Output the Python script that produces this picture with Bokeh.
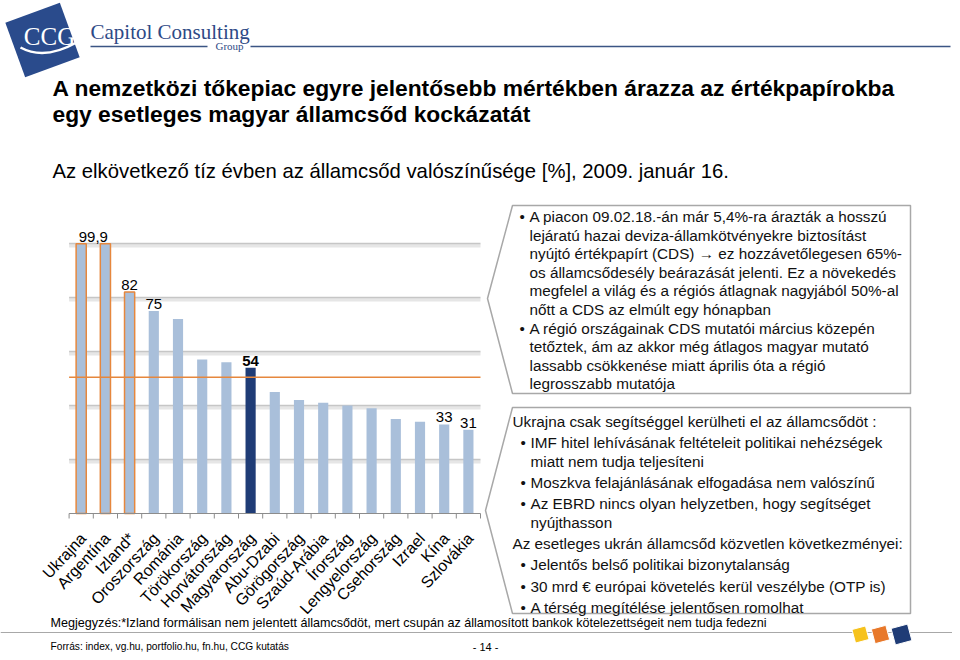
import numpy as np
from bokeh.plotting import figure
from bokeh.models import Range1d, ColumnDataSource
from bokeh.core.properties import value
from bokeh.embed import file_html
from bokeh.resources import INLINE

# ---------------- data ----------------
countries = ["Ukrajna", "Argentína", "Izland*", "Oroszország", "Románia",
             "Törökország", "Horvátország", "Magyarország", "Abu-Dzabi",
             "Görögország", "Szaúd-Arábia", "Írország", "Lengyelország",
             "Csehország", "Izrael", "Kína", "Szlovákia"]
default_prob = [99.9, 99.9, 82, 75, 72, 57, 56, 54, 45, 42, 41, 40, 39, 35, 34, 33, 31]
highlight = "Magyarország"
outlined = ["Ukrajna", "Argentína", "Izland*"]
reference_level = 50.5
grid_ticks = [20, 40, 60, 80, 100]
value_label_groups = [["Ukrajna", "Argentína"], ["Izland*"], ["Oroszország"],
                      ["Magyarország"], ["Kína"], ["Szlovákia"]]
value_label_text = ["99,9", "82", "75", "54", "33", "31"]

title_lines = ["A nemzetközi tőkepiac egyre jelentősebb mértékben árazza az értékpapírokba",
               "egy esetleges magyar államcsőd kockázatát"]
subtitle = "Az elkövetkező tíz évben  az államcsőd valószínűsége [%], 2009. január 16."

box1_lines = [
    ("bullet", "A piacon 09.02.18.-án már 5,4%-ra árazták a hosszú"),
    ("cont", "lejáratú hazai deviza-államkötvényekre biztosítást"),
    ("cont", "nyújtó értékpapírt (CDS) \u2192 ez hozzávetőlegesen 65%-"),
    ("cont", "os államcsődesély beárazását jelenti. Ez a növekedés"),
    ("cont", "megfelel a világ és  a régiós átlagnak nagyjából 50%-al"),
    ("cont", "nőtt a CDS az elmúlt egy hónapban"),
    ("bullet", "A régió országainak  CDS mutatói március közepén"),
    ("cont", "tetőztek, ám az akkor még átlagos magyar mutató"),
    ("cont", "lassabb csökkenése miatt április óta a régió"),
    ("cont", "legrosszabb mutatója"),
]
box2_lines = [
    ("head", "Ukrajna csak segítséggel kerülheti el az államcsődöt :"),
    ("bullet", "IMF hitel lehívásának feltételeit politikai nehézségek"),
    ("cont", "miatt nem tudja teljesíteni"),
    ("bullet", "Moszkva felajánlásának elfogadása nem valószínű"),
    ("bullet", "Az EBRD nincs olyan helyzetben, hogy segítséget"),
    ("cont", "nyújthasson"),
    ("head", "Az esetleges ukrán államcsőd közvetlen következményei:"),
    ("bullet", "Jelentős belső politikai bizonytalanság"),
    ("bullet", "30 mrd \u20ac európai követelés kerül veszélybe (OTP is)"),
    ("bullet", "A térség megítélése jelentősen romolhat"),
]
footnote = ("Megjegyzés:*Izland formálisan nem jelentett államcsődöt, mert csupán az "
            "államosított bankok kötelezettségeit nem tudja fedezni")
source_note = "Forrás: index, vg.hu, portfolio.hu, fn.hu, CCG kutatás"
page_no = "- 14 -"
brand = "Capitol Consulting"
brand_sub = "Group"
logo_text = "CCG"

# ---------------- style ----------------
SANS = value("Liberation Sans")
SERIF = value("Liberation Serif")
LIGHT = "#A9BFDA"
DARK = "#1F3C76"
ORANGE = "#E6873D"
LOGO_BLUE = "#2A4B8C"
BOX_LINE = "#A8A8A8"
TXT_PX = "15.3px"

W, H = 952, 652
OX, OY = 0, 0            # figure coords equal page pixels

p = figure(width=W, height=H, x_range=Range1d(OX, OX + W), y_range=Range1d(OY + H, OY),
           output_backend="svg", toolbar_location=None, min_border=0,
           x_axis_location=None, y_axis_location=None)
p.grid.visible = False
p.outline_line_color = None
p.background_fill_color = "white"
p.border_fill_color = "white"

# ---------------- header ----------------
p.rect(x=[42], y=[39.5], width=58, height=58, angle=20, angle_units="deg",
       fill_color=LOGO_BLUE, line_color=None)
p.quadratic(x0=[20], y0=[47], x1=[76], y1=[42], cx=[44], cy=[60],
            line_color="white", line_width=2.5)
p.text(x=[49], y=[36], text=[logo_text], text_font=SERIF, text_font_size="25px",
       text_color="white", text_align="center", text_baseline="middle")
p.text(x=[90], y=[31], text=[brand], text_font=SERIF, text_font_size="21px",
       text_color="#2E4A86", text_align="left", text_baseline="middle")
p.text(x=[229], y=[45], text=[brand_sub], text_font=SERIF, text_font_size="11px",
       text_color="#2E4A86", text_align="center", text_baseline="middle")
p.segment(x0=[90, 250], y0=[46, 46], x1=[207, 950], y1=[46, 46],
          line_color="#3B5584", line_width=1.5)

p.text(x=[52, 52], y=[87, 113], text=title_lines, text_font=SANS, text_font_size="22.8px",
       text_font_style="bold", text_color="black", text_align="left", text_baseline="middle")
p.text(x=[52], y=[170], text=[subtitle], text_font=SANS, text_font_size="20.3px",
       text_color="black", text_align="left", text_baseline="middle")

# ---------------- chart (own scales) ----------------
CAT_PX, CAT0_X = 24.2, 80.7     # px per category, page x of first category centre
BASE_Y, UNIT_PX = 513, 2.7      # page y of value 0, px per percentage point
cx0 = -(CAT0_X - OX) / CAT_PX
cy0 = -(OY + H - BASE_Y) / UNIT_PX
p.extra_x_ranges = {"cx": Range1d(cx0, cx0 + W / CAT_PX)}
p.extra_y_ranges = {"cy": Range1d(cy0, cy0 + H / UNIT_PX)}
R = dict(x_range_name="cx", y_range_name="cy")

n = len(countries)
idx = np.arange(n)
left, right = -0.5, n - 0.5

# gridlines (with light shadow band)
gt = np.array(grid_ticks, dtype=float)
p.segment(x0=[left] * len(gt), x1=[right] * len(gt), y0=gt - 2.2 / UNIT_PX, y1=gt - 2.2 / UNIT_PX,
          line_color="#E6E6E6", line_width=3.5, **R)
p.segment(x0=[left] * len(gt), x1=[right] * len(gt), y0=gt, y1=gt,
          line_color="#C6C6C6", line_width=1.5, **R)

bars = ColumnDataSource(dict(
    x=idx, top=default_prob,
    fill=[DARK if c == highlight else LIGHT for c in countries],
    la=[1.0 if c in outlined else 0.0 for c in countries],
))
p.vbar(x="x", top="top", bottom=0, width=0.42, source=bars, fill_color="fill",
       line_color=ORANGE, line_alpha="la", line_width=1.5, **R)

# reference line
p.segment(x0=[left], x1=[right], y0=[reference_level], y1=[reference_level],
          line_color=ORANGE, line_width=1.5, **R)

# category axis: baseline, ticks between categories, rotated labels
p.segment(x0=[left], x1=[right], y0=[0], y1=[0], line_color="#8C8C8C", line_width=1, **R)
bounds = np.arange(n + 1) - 0.5
p.segment(x0=bounds, x1=bounds, y0=np.zeros(n + 1), y1=np.full(n + 1, -5 / UNIT_PX),
          line_color="#8C8C8C", line_width=1, **R)
p.text(x=idx, y=np.zeros(n), text=countries, angle=47, angle_units="deg", text_align="right",
       text_baseline="middle", x_offset=2, y_offset=22, text_font=SANS,
       text_font_size="16px", text_color="black", **R)

# value labels
pos = {c: i for i, c in enumerate(countries)}
lab = ColumnDataSource(dict(
    x=[np.mean([pos[c] for c in g]) for g in value_label_groups],
    y=[max(default_prob[pos[c]] for c in g) for g in value_label_groups],
    t=value_label_text,
    st=["bold" if highlight in g else "normal" for g in value_label_groups],
))
p.text(x="x", y="y", text="t", source=lab, text_align="center", text_baseline="bottom",
       y_offset=-2, text_font=SANS, text_font_size="15px", text_font_style="st",
       text_color="black", **R)

# ---------------- call-out boxes ----------------
p.patch(x=[512, 910, 910, 512, 487, 512], y=[205, 205, 393, 393, 298, 205],
        fill_color="white", line_color=BOX_LINE, line_width=1.5)
p.patch(x=[512, 910, 910, 512, 485, 512], y=[407, 407, 613, 613, 510, 407],
        fill_color="white", line_color=BOX_LINE, line_width=1.5)


def box_text(lines, y0, gap, para_gap, x_head, x_bul, x_txt):
    xs, ys, ts, bx, by = [], [], [], [], []
    y = y0
    for k, (kind, t) in enumerate(lines):
        if k > 0:
            y += gap + (para_gap if kind != "cont" else 0)
        xs.append(x_head if kind == "head" else x_txt)
        if kind == "bullet":
            bx.append(x_bul)
            by.append(y)
        ys.append(y)
        ts.append(t)
    p.text(x=xs, y=ys, text=ts, text_font=SANS, text_font_size=TXT_PX,
           text_color="#111111", text_align="left", text_baseline="middle")
    p.text(x=bx, y=by, text=["\u2022"] * len(bx), text_font=SANS, text_font_size=TXT_PX,
           text_color="#111111", text_align="left", text_baseline="middle")


box_text(box1_lines, 216, 18.6, 0.0, 512, 519, 529)
box_text(box2_lines, 421, 18.7, 2.5, 512, 520, 530)

# ---------------- footer ----------------
p.text(x=[50], y=[622], text=[footnote], text_font=SANS, text_font_size="12.6px",
       text_color="black", text_align="left", text_baseline="middle")
p.segment(x0=[OX], x1=[OX + W], y0=[632], y1=[632], line_color="#A8A8A8", line_width=1)
p.rect(x=[860, 880, 901], y=[634, 634, 634], width=[14, 15, 17], height=[14, 15, 17],
       angle=15, angle_units="deg", fill_color=["#F6C21C", "#E8782A", "#1F3C76"],
       line_color="white", line_width=1)
p.text(x=[50], y=[646], text=[source_note], text_font=SANS, text_font_size="10.2px",
       text_color="black", text_align="left", text_baseline="middle")
p.text(x=[485], y=[646], text=[page_no], text_font=SANS, text_font_size="11px",
       text_color="black", text_align="center", text_baseline="middle")

open("out.html", "w").write(file_html(p, INLINE))
